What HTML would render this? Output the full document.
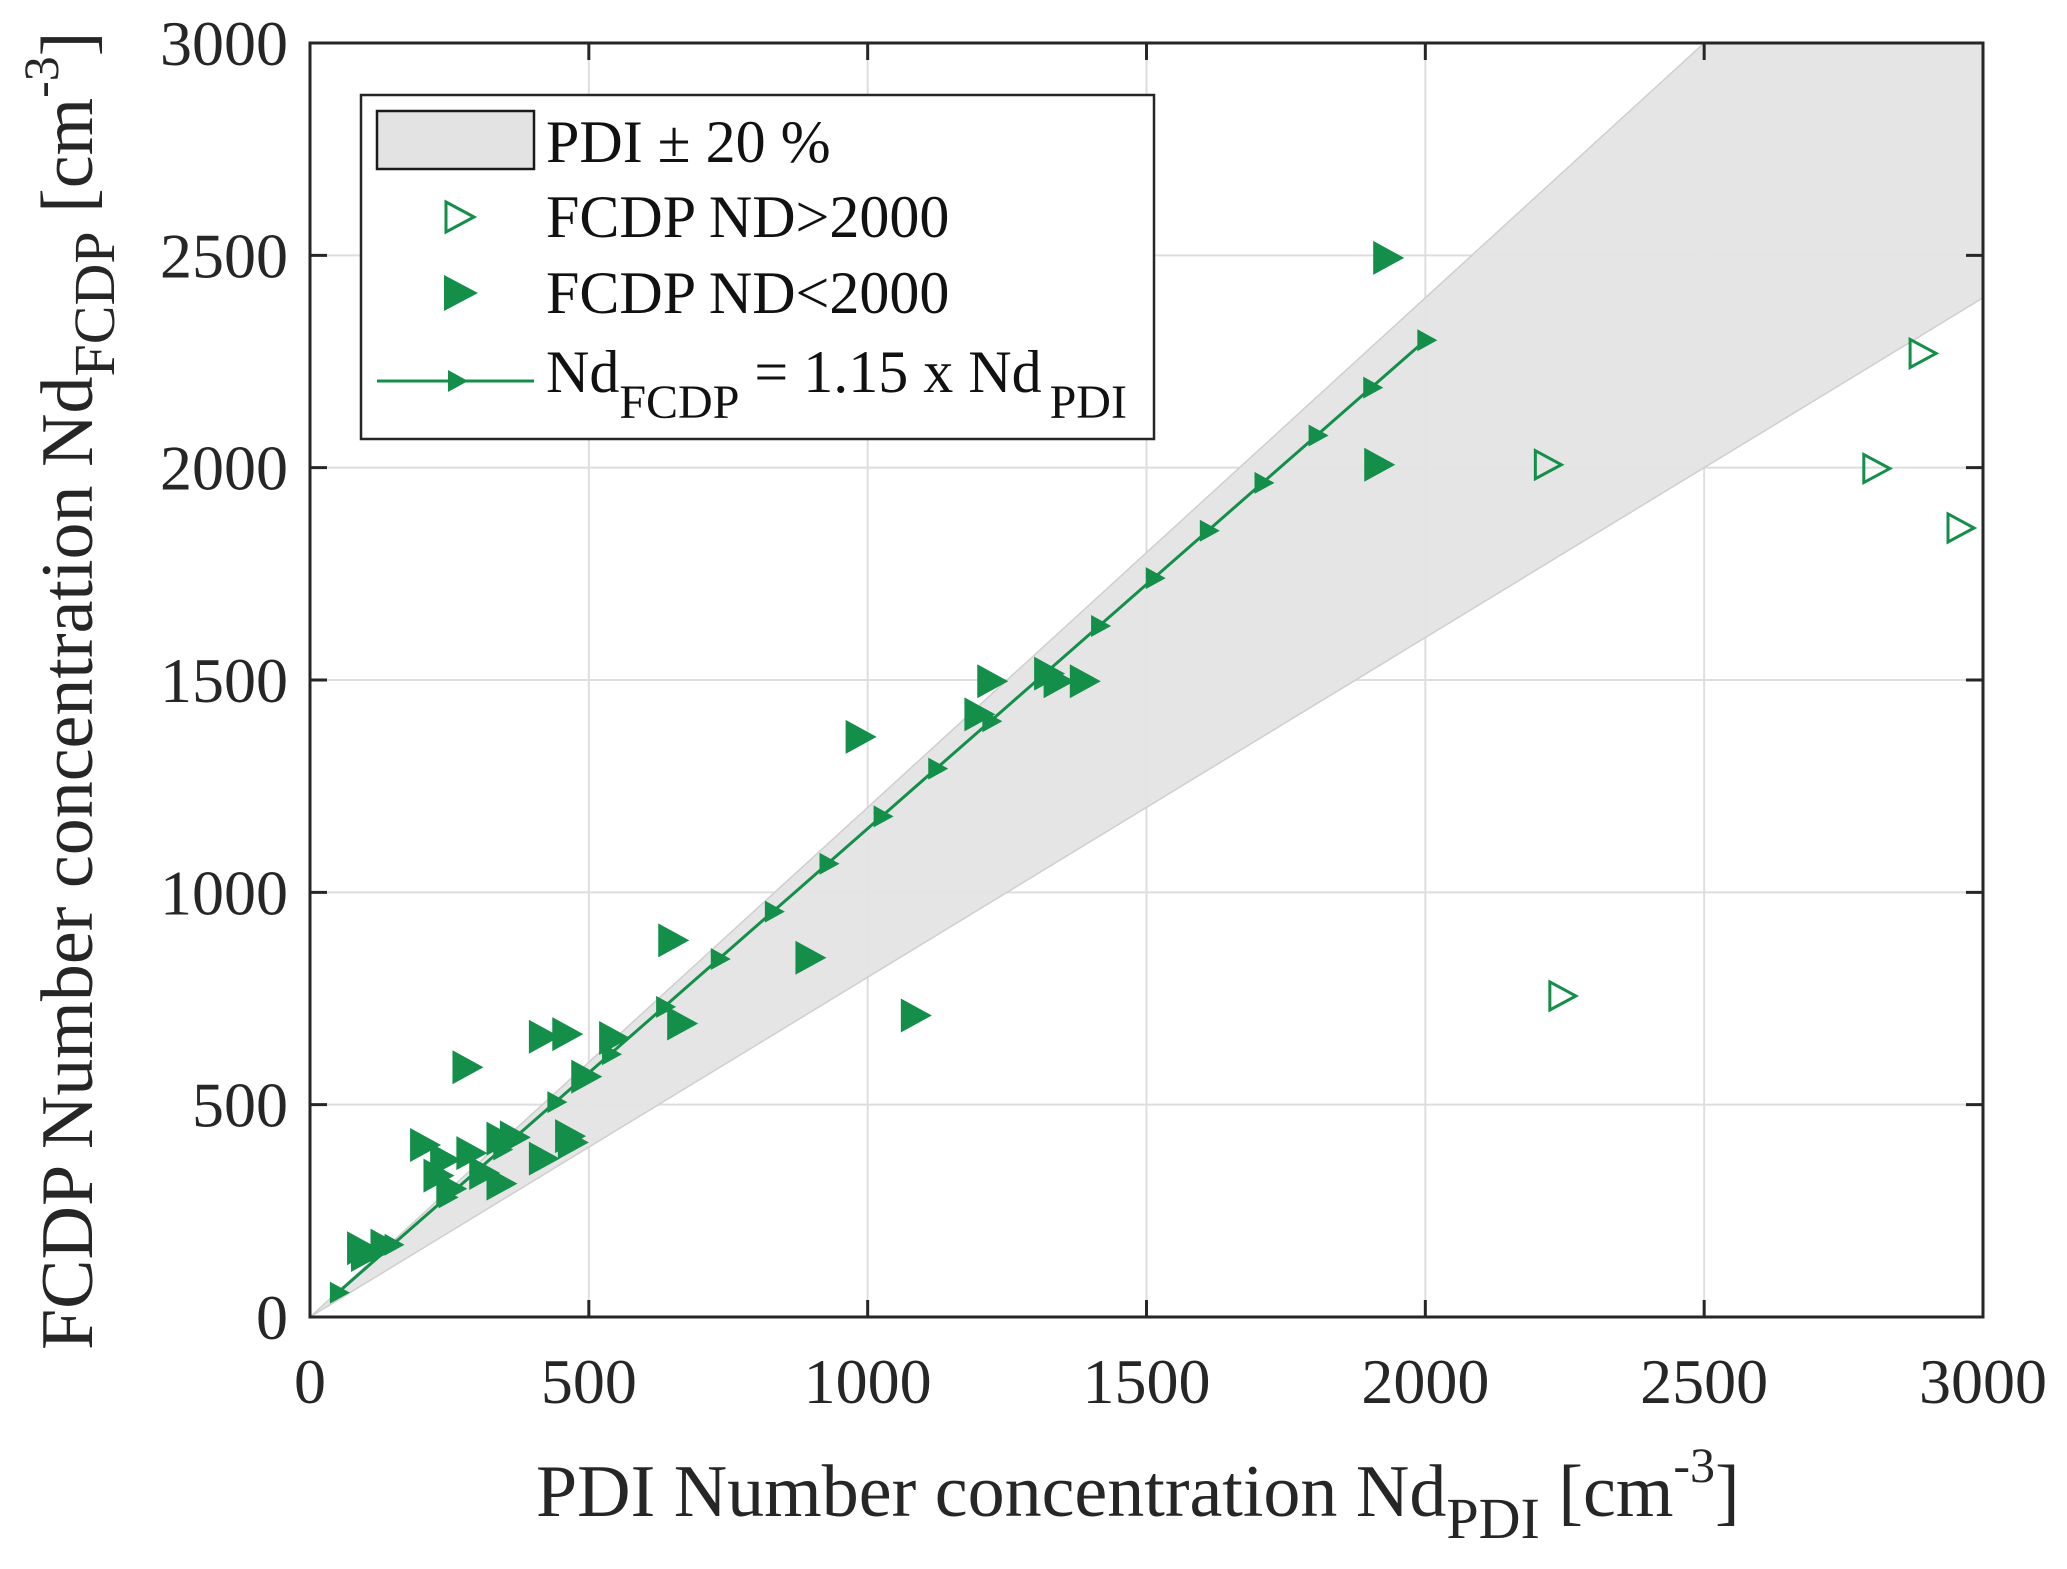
<!DOCTYPE html>
<html><head><meta charset="utf-8"><style>
html,body{margin:0;padding:0;background:#fff;}
svg{display:block;font-family:"Liberation Serif",serif;}
</style></head><body>
<svg id="chart" width="2067" height="1569" viewBox="0 0 2067 1569" xmlns="http://www.w3.org/2000/svg">
<g id="plot"></g>
<g>
  <rect x="361" y="95" width="793" height="344" fill="#fff" stroke="#262626" stroke-width="2.5"/>
  <rect x="377" y="111" width="157" height="58" fill="#e3e3e3" stroke="#1a1a1a" stroke-width="2.5"/>
  <text x="546" y="162" font-size="60" fill="#111">PDI ± 20 %</text>
  <polygon points="446,202 474,217 446,232" fill="none" stroke="#138f4a" stroke-width="3"/>
  <text x="546" y="237" font-size="60" fill="#111">FCDP ND&gt;2000</text>
  <polygon points="444,275 478,293 444,311" fill="#138f4a"/>
  <text x="546" y="313" font-size="60" fill="#111">FCDP ND&lt;2000</text>
  <line x1="377" y1="381" x2="534" y2="381" stroke="#138f4a" stroke-width="3"/>
  <polygon points="448,370 468,381 448,392" fill="#138f4a"/>
  <text x="546" y="392" font-size="60" fill="#111">Nd<tspan font-size="48" dy="26">FCDP</tspan><tspan dy="-26"> = 1.15 x Nd</tspan><tspan font-size="48" dy="26" dx="8">PDI</tspan></text>
</g>
<text x="536" y="1516" font-size="74" fill="#262626">PDI Number concentration Nd<tspan font-size="58" dy="22">PDI</tspan><tspan dy="-22"> [cm</tspan><tspan font-size="50" dy="-34">-3</tspan><tspan dy="34">]</tspan></text>
<text transform="translate(92,1350) rotate(-90)" x="0" y="0" font-size="74" fill="#262626">FCDP Number concentration Nd<tspan font-size="58" dy="22">FCDP</tspan><tspan dy="-22"> [cm</tspan><tspan font-size="50" dy="-34">-3</tspan><tspan dy="34">]</tspan></text>
</svg>
<script>
const xTicks=[0,500,1000,1500,2000,2500,3000];
const yTicks=[0,500,1000,1500,2000,2500,3000];
const xTickLabels=["0","500","1000","1500","2000","2500","3000"];
const yTickLabels=["0","500","1000","1500","2000","2500","3000"];
const bandLow=0.8, bandHigh=1.2, fitSlope=1.15;
const fitX=[50,148,245,343,440,538,635,733,830,928,1025,1123,1220,1318,1415,1513,1610,1708,1805,1903,2000];
const filledX=[1928,1912,1218,1337,1384,1195,982,646,892,1081,662,414,456,540,490,277,201,362,338,284,237,461,466,414,225,338,307,248,88,130,95,1320];
const filledY=[2494,2007,1497,1497,1497,1419,1366,887,846,710,691,660,666,657,566,588,405,423,420,386,370,426,411,373,333,314,339,302,162,168,146,1515];
const openX=[2217,2243,2806,2889,2957];
const openY=[2007,756,1998,2269,1858];

const X0=310,X1=1983,Y0=1317,Y1=43;
const sx=v=>X0+(v-0)/3000*(X1-X0);
const sy=v=>Y0-(v-0)/3000*(Y0-Y1);
const NS="http://www.w3.org/2000/svg";
const g=document.getElementById('plot');
function mk(t,a,p){const e=document.createElementNS(NS,t);for(const k in a)e.setAttribute(k,a[k]);(p||g).appendChild(e);return e;}

xTicks.forEach(v=>{const e=mk('line',{x1:sx(v),y1:Y0,x2:sx(v),y2:Y1,stroke:'#dedede','stroke-width':2});

});
yTicks.forEach(v=>{const e=mk('line',{x1:X0,y1:sy(v),x2:X1,y2:sy(v),stroke:'#dedede','stroke-width':2});

});

const cp=mk('clipPath',{id:'clip'});mk('rect',{x:X0,y:Y1,width:X1-X0,height:Y0-Y1},cp);
const band=mk('polygon',{points:`${sx(0)},${sy(0)} ${sx(3000)},${sy(3000*bandHigh)} ${sx(3000)},${sy(3000*bandLow)}`,fill:'#e4e4e4',stroke:'#cfcfcf','stroke-width':1.5,'clip-path':'url(#clip)','fill-opacity':0.95});



const fl=mk('polyline',{points:fitX.map(x=>`${sx(x)},${sy(x*fitSlope)}`).join(' '),fill:'none',stroke:'#138f4a','stroke-width':3});


fitX.forEach(x=>{const cx=sx(x),cy=sy(x*fitSlope);
const m=mk('polygon',{points:`${cx-8},${cy-11} ${cx+12},${cy} ${cx-8},${cy+11}`,fill:'#138f4a'});

});

filledX.forEach((x,i)=>{const cx=sx(x),cy=sy(filledY[i]);
const m=mk('polygon',{points:`${cx-12},${cy-17} ${cx+19},${cy} ${cx-12},${cy+17}`,fill:'#138f4a'});

});
openX.forEach((x,i)=>{const cx=sx(x),cy=sy(openY[i]);
const m=mk('polygon',{points:`${cx-11},${cy-14} ${cx+15},${cy} ${cx-11},${cy+14}`,fill:'none',stroke:'#138f4a','stroke-width':3});

});

const box=mk('rect',{x:X0,y:Y1,width:X1-X0,height:Y0-Y1,fill:'none',stroke:'#262626','stroke-width':3});


xTicks.forEach((v,i)=>{
 mk('line',{x1:sx(v),y1:Y0,x2:sx(v),y2:Y0-17,stroke:'#262626','stroke-width':3});
 mk('line',{x1:sx(v),y1:Y1,x2:sx(v),y2:Y1+17,stroke:'#262626','stroke-width':3});
 const t=mk('text',{x:sx(v),y:1403,'font-size':64,'text-anchor':'middle',fill:'#262626'});t.textContent=xTickLabels[i];
 
 });
yTicks.forEach((v,i)=>{
 mk('line',{x1:X0,y1:sy(v),x2:X0+17,y2:sy(v),stroke:'#262626','stroke-width':3});
 mk('line',{x1:X1,y1:sy(v),x2:X1-17,y2:sy(v),stroke:'#262626','stroke-width':3});
 const t=mk('text',{x:288,y:sy(v)+22,'font-size':64,'text-anchor':'end',fill:'#262626'});t.textContent=yTickLabels[i];
 
 });
</script>
</body></html>
